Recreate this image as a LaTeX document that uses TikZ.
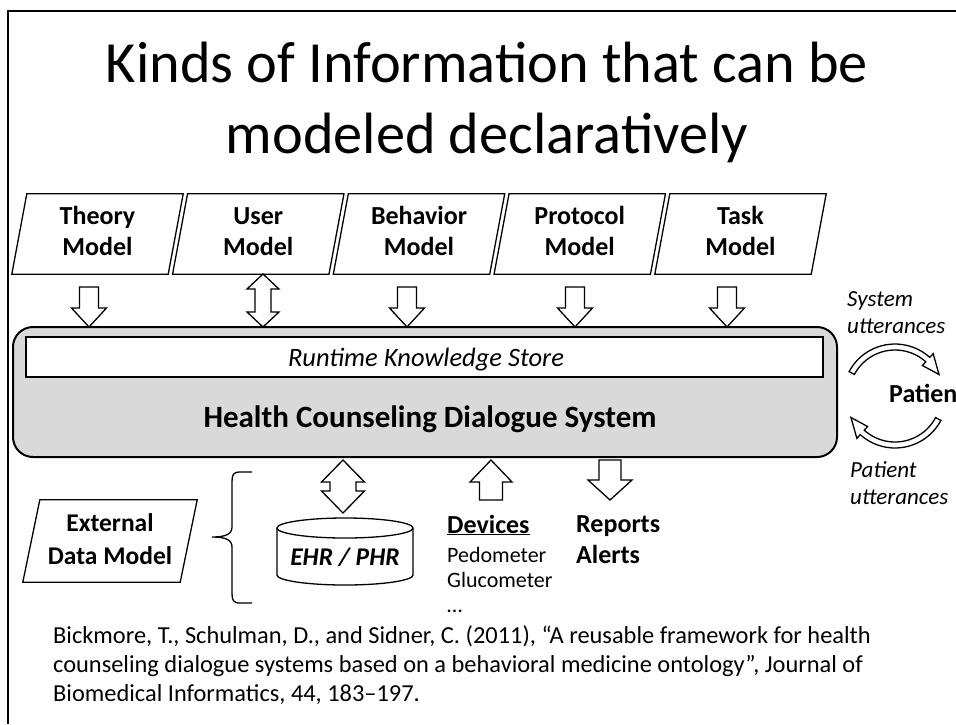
\documentclass[tikz,border=0pt]{standalone}
\usepackage{fontspec}
\setmainfont{Carlito}
\usetikzlibrary{calc}
\definecolor{hgray}{HTML}{D9D9D9}
\tikzset{
  blk/.style={draw=black, fill=white, line width=1.3pt, line join=miter},
  parline/.style={draw=black, line width=1.3pt, line join=miter},
  paral/.style={minimum width=156pt, minimum height=80pt, inner sep=0pt, align=center,
    font=\fontsize{26}{31}\selectfont\bfseries},
  titletext/.style={anchor=base, inner sep=0pt, font=\fontsize{58.3}{68}\selectfont},
  boldlbl/.style={anchor=base west, inner sep=0pt, font=\fontsize{26}{30}\selectfont\bfseries},
  smalllbl/.style={anchor=base west, inner sep=0pt, font=\fontsize{22}{26}\selectfont},
  itlbl/.style={inner sep=0pt, align=left, font=\fontsize{23}{27}\selectfont\itshape},
  cite/.style={anchor=base west, inner sep=0pt, font=\fontsize{24.4}{29}\selectfont},
}
% down block arrow: x, ytop, ytip, shaft half, head half, head length (pixel coords, y downwards)
\newcommand\blkdn[6]{\draw[blk] ({#1-#4},{-#2}) -- ({#1+#4},{-#2}) -- ({#1+#4},{-(#3-#6)}) -- ({#1+#5},{-(#3-#6)}) -- (#1,{-#3}) -- ({#1-#5},{-(#3-#6)}) -- ({#1-#4},{-(#3-#6)}) -- cycle;}
% up block arrow: x, ybottom, ytip, shaft half, head half, head length
\newcommand\blkup[6]{\draw[blk] ({#1-#4},{-#2}) -- ({#1+#4},{-#2}) -- ({#1+#4},{-(#3+#6)}) -- ({#1+#5},{-(#3+#6)}) -- (#1,{-#3}) -- ({#1-#5},{-(#3+#6)}) -- ({#1-#4},{-(#3+#6)}) -- cycle;}
% double block arrow: x, ytop tip, ybottom tip, shaft half, head half, head length
\newcommand\blkdbl[6]{\draw[blk] (#1,{-#2}) -- ({#1+#5},{-(#2+#6)}) -- ({#1+#4},{-(#2+#6)}) -- ({#1+#4},{-(#3-#6)}) -- ({#1+#5},{-(#3-#6)}) -- (#1,{-#3}) -- ({#1-#5},{-(#3-#6)}) -- ({#1-#4},{-(#3-#6)}) -- ({#1-#4},{-(#2+#6)}) -- ({#1-#5},{-(#2+#6)}) -- cycle;}
\newcommand\paradraw[2]{\draw[parline] ($(#1.south west)+(-#2,0)$) -- ($(#1.south east)+(-#2,0)$) -- ($(#1.north east)+(#2,0)$) -- ($(#1.north west)+(#2,0)$) -- cycle;}
\begin{document}
\begin{tikzpicture}[x=1pt,y=1pt]
\useasboundingbox (0,0) rectangle (956,-724);
\fill[white] (0,0) rectangle (956,-724);
% frame
\draw[line width=2.5pt] (8,-724) -- (8,-11) -- (956,-11);
% title
\node[titletext] (t1) at (487,-82) {Kinds of Information that can be};
\node[titletext] (t2) at (487,-153) {modeled declaratively};
% model boxes
\node[paral] (theory) at (97.5,-234) {\strut Theory\\\strut Model};
\node[paral] (user) at (258.25,-234) {\strut User\\\strut Model};
\node[paral] (behavior) at (419,-234) {\strut Behavior\\\strut Model};
\node[paral] (protocol) at (579.75,-234) {\strut Protocol\\\strut Model};
\node[paral] (task) at (740.5,-234) {\strut Task\\\strut Model};
\foreach \n in {theory,user,behavior,protocol,task} {\paradraw{\n}{7.5}}
% main system box
\node[draw=black, line width=2pt, rounded corners=20pt, fill=hgray, minimum width=824pt, minimum height=130pt, inner sep=0pt] (hcds) at (425,-392) {};
\node[draw=black, line width=2pt, fill=white, minimum width=797pt, minimum height=40pt, inner sep=0pt] (rks) at (424.5,-357) {};
\node[anchor=base, inner sep=0pt, font=\fontsize{26.5}{30}\selectfont\itshape] (rkstext) at (426,-366) {Runtime Knowledge Store};
\node[anchor=base, inner sep=0pt, font=\fontsize{31}{36}\selectfont\bfseries] (hcdstext) at (430,-427) {Health Counseling Dialogue System};
% top arrows
\blkdn{89}{287}{327}{9.5}{17.5}{19}
\blkdbl{263}{274}{327}{8}{16}{15}
\blkdn{407}{287}{327}{9.5}{17.5}{19}
\blkdn{575}{287}{327}{9.5}{17.5}{19}
\blkdn{727}{287}{327}{9.5}{17.5}{19}
% patient loop
\coordinate (pc) at (895,-396);
\draw[blk] ($(pc)+(152:52)$) arc[start angle=152, end angle=48, radius=52] -- ($(pc)+(48:57)$) -- ($(pc)+(26:49)$) -- ($(pc)+(48:41)$) -- ($(pc)+(48:46)$) arc[start angle=48, end angle=152, radius=46] -- cycle;
\draw[blk] ($(pc)+(-28:52)$) arc[start angle=-28, end angle=-132, radius=52] -- ($(pc)+(-132:57)$) -- ($(pc)+(-154:49)$) -- ($(pc)+(-132:41)$) -- ($(pc)+(-132:46)$) arc[start angle=-132, end angle=-28, radius=46] -- cycle;
\node[boldlbl] (patient) at (889,-402) {Patien};
\node[itlbl, anchor=west] (sysutt) at (847,-313) {System\\utterances};
\node[itlbl, anchor=west] (patutt) at (850,-483) {Patient\\utterances};
% external data model
\node[paral, minimum width=157pt, minimum height=82pt, font=\fontsize{25.5}{33}\selectfont\bfseries] (ext) at (110,-541) {\strut External\\\strut Data Model};
\paradraw{ext}{8.5}
% brace
\draw[line width=1.3pt] (252,-472) -- (240,-472) .. controls (233,-472) and (232,-475) .. (232,-482) -- (232,-527) .. controls (232,-534) and (226,-537) .. (212,-537) .. controls (226,-537) and (232,-540) .. (232,-547) -- (232,-593) .. controls (232,-600) and (233,-603) .. (240,-603) -- (252,-603);
% EHR cylinder
\draw[blk] (277,-528) -- (277,-575) arc[start angle=180, end angle=360, x radius=68, y radius=10] -- (413,-528);
\draw[blk] (345,-528) ellipse [x radius=68, y radius=10];
\node[anchor=base, inner sep=0pt, font=\fontsize{25.5}{30}\selectfont\bfseries\itshape] (ehr) at (345,-565) {EHR / PHR};
% bottom arrows
\blkdbl{343}{460}{513}{13}{21.5}{22}
\blkup{491}{500}{460}{11.5}{21}{22}
\blkdn{610}{460}{500}{11}{22}{20}
% devices
\node[boldlbl] (devices) at (447,-533) {\underline{Devices}};
\node[smalllbl] (ped) at (447,-562) {Pedometer};
\node[smalllbl] (glu) at (447,-587) {Glucometer};
\node[smalllbl] (dots) at (447,-612) {…};
% reports
\node[boldlbl] (reports) at (576,-532) {Reports};
\node[boldlbl] (alerts) at (576,-563) {Alerts};
% citation
\node[cite] (c1) at (53,-643) {Bickmore, T., Schulman, D., and Sidner, C. (2011), “A reusable framework for health};
\node[cite] (c2) at (53,-672) {counseling dialogue systems based on a behavioral medicine ontology”, Journal of};
\node[cite] (c3) at (53,-701) {Biomedical Informatics, 44, 183–197.};
\end{tikzpicture}
\end{document}
